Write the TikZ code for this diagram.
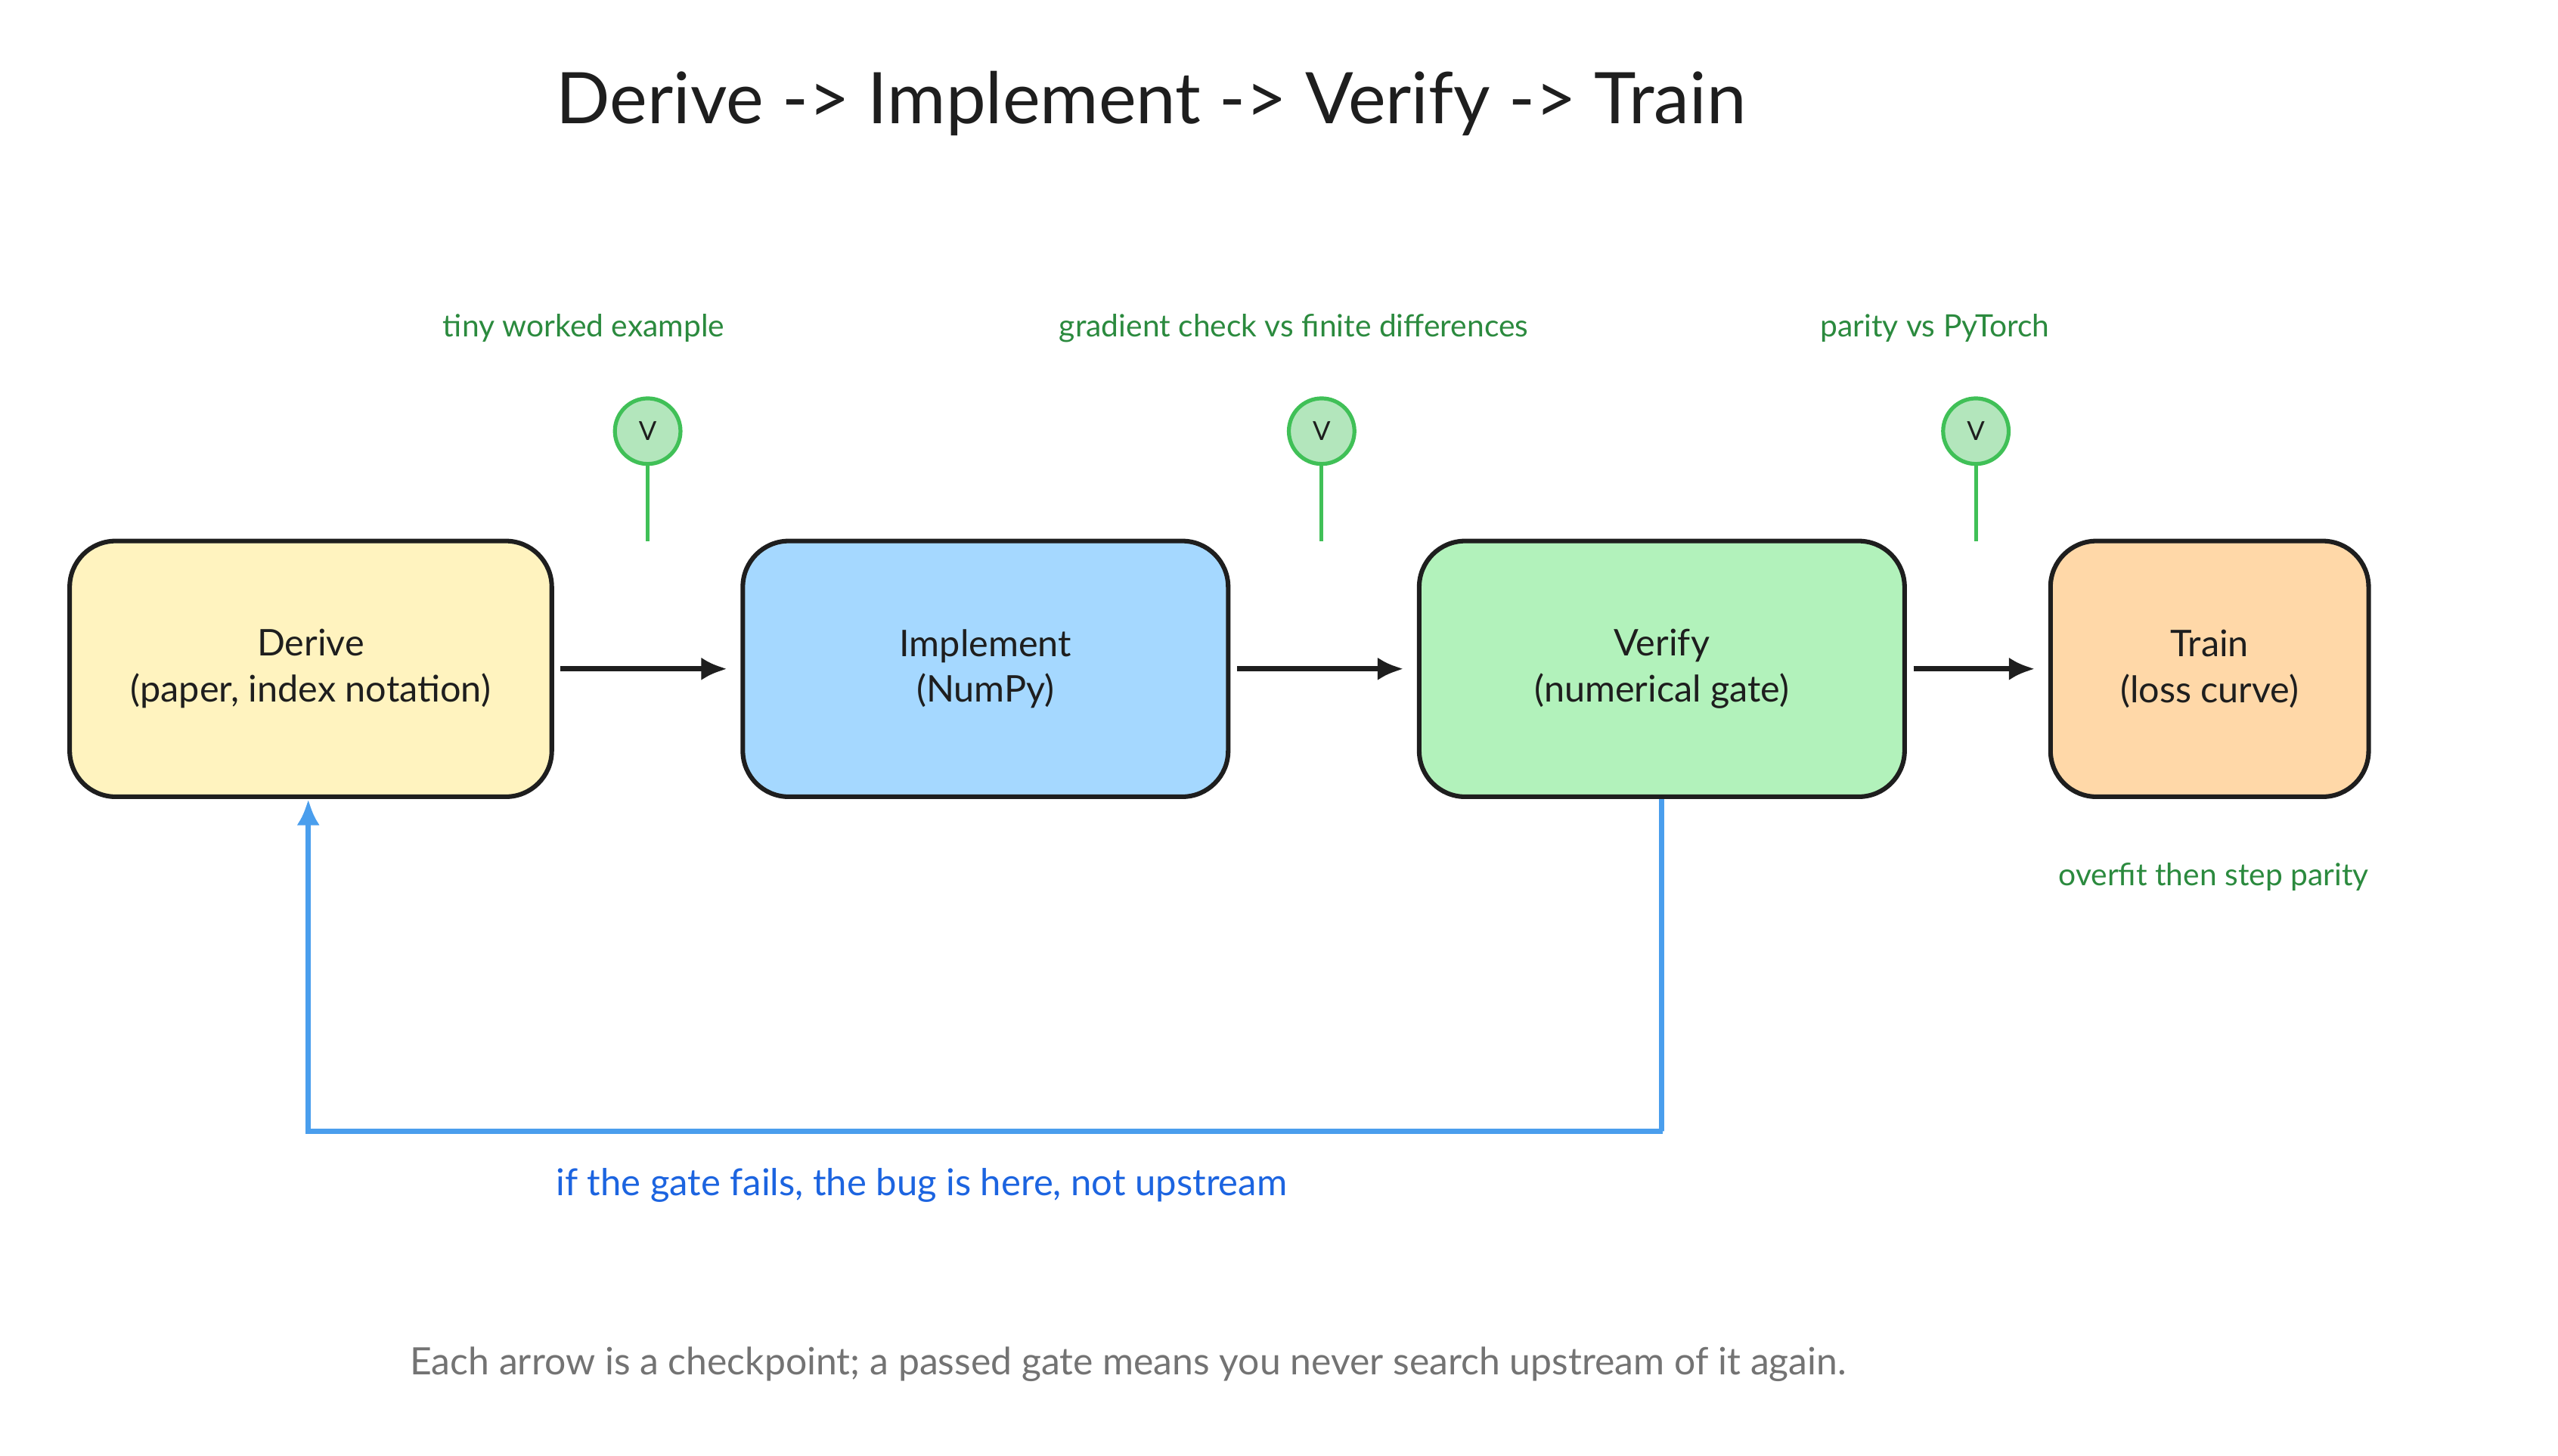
\documentclass[tikz,border=0pt]{standalone}
\usepackage{fontspec}
\setmainfont{Lato}
\usetikzlibrary{arrows.meta}
\definecolor{ink}{HTML}{1E1E1E}
\definecolor{gatec}{HTML}{40C057}
\definecolor{gatet}{HTML}{2B8A3E}
\definecolor{loopc}{HTML}{4A9EED}
\definecolor{loopt}{HTML}{1C64E0}
\tikzset{
  stage/.style={draw=ink,line width=1.4pt,rounded corners=14pt,minimum height=78pt,align=center,font=\fontsize{11.2}{14}\selectfont,text=ink},
  flow/.style={draw=ink,line width=1.6pt,-{Latex[length=8pt,width=7pt]}},
  gate/.style={circle,draw=gatec,fill=gatec!40,line width=1.2pt,minimum size=20pt,inner sep=0pt,font=\fontsize{8}{9}\selectfont,text=ink},
  note/.style={font=\fontsize{9.4}{11}\selectfont,text=gatet},
}
\begin{document}
\begin{tikzpicture}[x=0.5pt,y=-0.5pt]
\path[use as bounding box] (0,0) rectangle (1560,888);
% title
\node[font=\fontsize{21.7}{26}\selectfont,text=ink] (title) at (702,63) {Derive -> Implement -> Verify -> Train};
% stages
\node[stage,fill={rgb,255:red,255;green,243;blue,191},minimum width=147pt] (derive) at (189.5,408) {Derive\\(paper, index notation)};
\node[stage,fill={rgb,255:red,165;green,216;blue,255},minimum width=148pt] (impl) at (601,408) {Implement\\(NumPy)};
\node[stage,fill={rgb,255:red,178;green,242;blue,187},minimum width=148pt] (verify) at (1013.5,408) {Verify\\(numerical gate)};
\node[stage,fill={rgb,255:red,255;green,216;blue,168},minimum width=97pt] (train) at (1347.5,408) {Train\\(loss curve)};
% flow
\draw[flow] (derive.east) ++(4,0) -- ([xshift=-4pt]impl.west);
\draw[flow] (impl.east) ++(4,0) -- ([xshift=-4pt]verify.west);
\draw[flow] (verify.east) ++(4,0) -- ([xshift=-4pt]train.west);
% gates
\node[gate] (g1) at (395,263) {V};
\node[gate] (g2) at (806,263) {V};
\node[gate] (g3) at (1205,263) {V};
\coordinate (s1) at (395,330);
\coordinate (s2) at (806,330);
\coordinate (s3) at (1205,330);
\foreach \g in {1,2,3}
  \draw[gatec,line width=1.2pt] (g\g) -- (s\g);
\node[note] (n1) at (356,200) {tiny worked example};
\node[note] (n2) at (789,200) {gradient check vs finite differences};
\node[note] (n3) at (1180,200) {parity vs PyTorch};
\node[note] (n4) at (1350,535) {overfit then step parity};
% loop back
\coordinate (c1) at (1014,690);
\coordinate (c2) at (188,690);
\draw[loopc,line width=1.6pt,-{Latex[length=8pt,width=7pt]}] (verify.south) |- (c1) -- (c2) -- (derive.south -| c2);
\node[font=\fontsize{11.3}{13}\selectfont,text=loopt] (why) at (562,723) {if the gate fails, the bug is here, not upstream};
\node[font=\fontsize{11.5}{13}\selectfont,text=black!55] (foot) at (688,832) {Each arrow is a checkpoint; a passed gate means you never search upstream of it again.};
\end{tikzpicture}
\end{document}
